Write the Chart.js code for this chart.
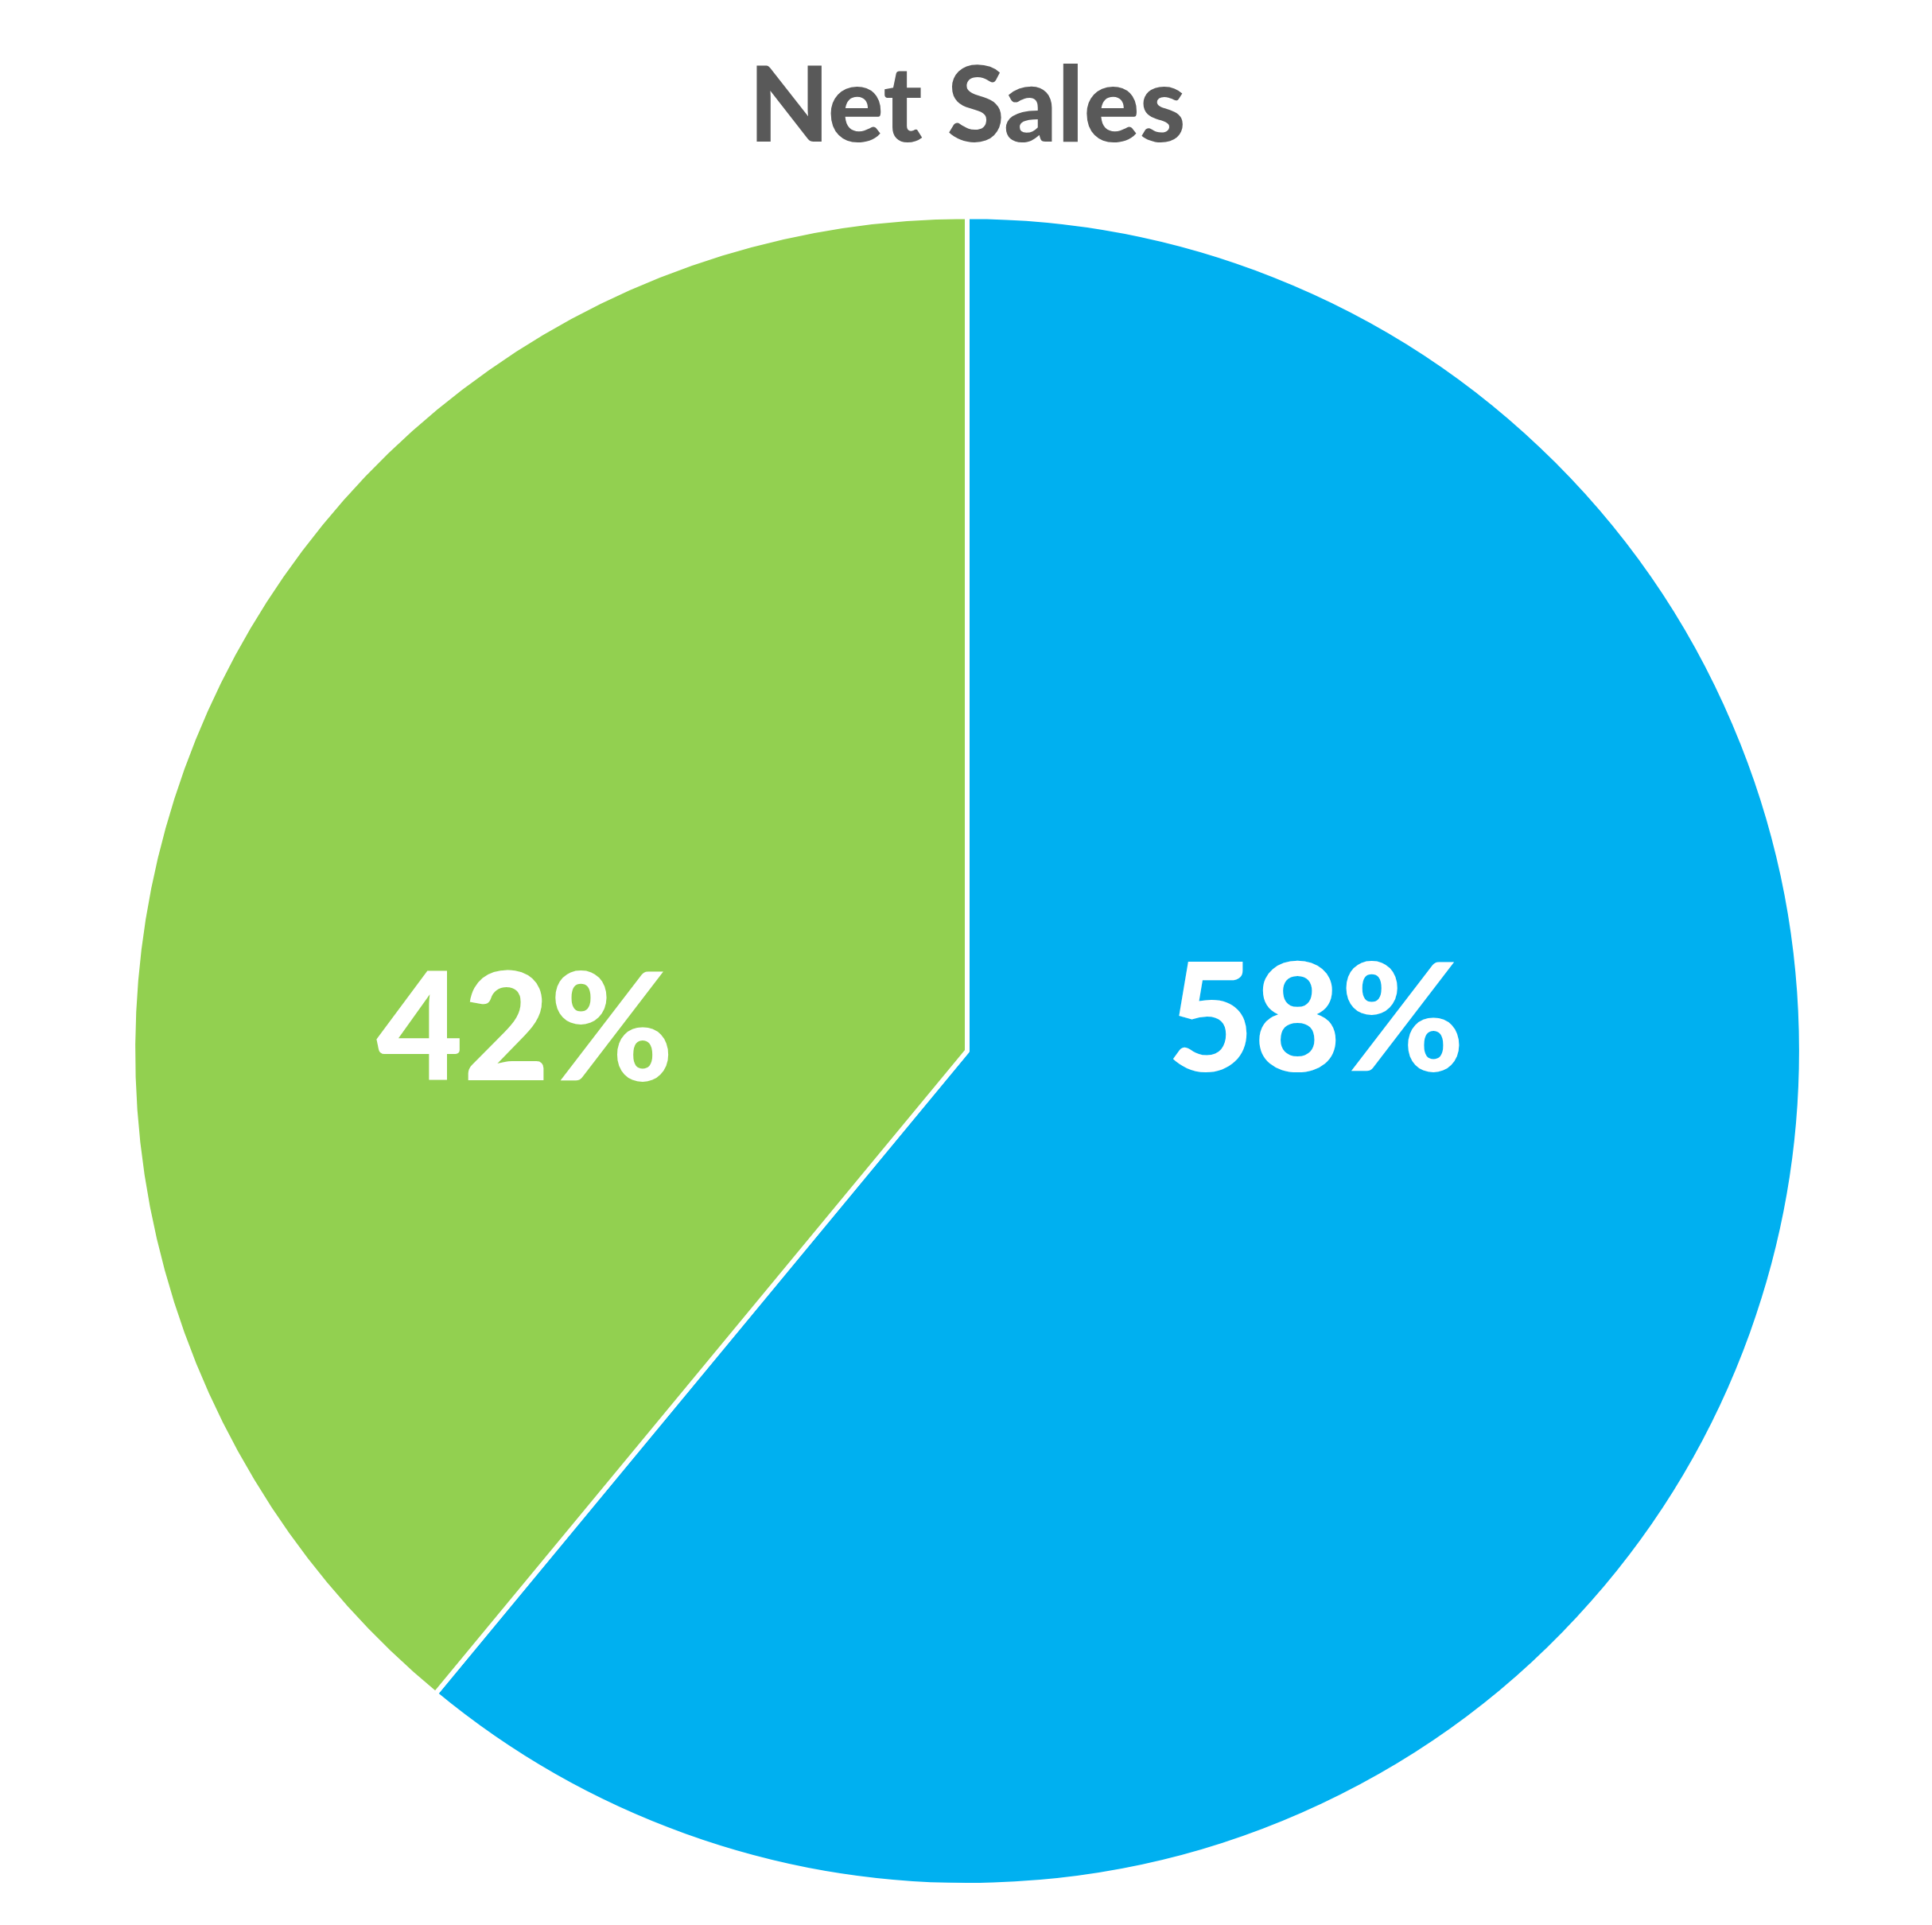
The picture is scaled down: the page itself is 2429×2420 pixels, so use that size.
<!DOCTYPE html>
<html lang="en">
<head>
<meta charset="UTF-8">
<title>Net Sales</title>
<script src="https://cdn.jsdelivr.net/npm/chart.js"></script>
    <style>
        * {
        margin: 0;
        padding: 0;
        box-sizing: border-box;
        }

        html, body {
        width: 2429px;
        height: 2420px;
        background: #ffffff;
        overflow: hidden;
        }

        canvas {
        display: block;
        }
    </style>
</head>
<body>

    <canvas id="chart" width="2429" height="2420"></canvas>

    <script>
        const categories = ['A', 'B'];
        const shares = [61, 39];
        const labelTexts = ['58%', '42%'];
        const sliceColors = ['#00B0F0', '#92D050'];

        // writes the percentage text inside each slice
        const pieLabels = {
        id: 'pieLabels',
        afterDatasetsDraw(chart, args, opts) {
            const meta = chart.getDatasetMeta(0);
            const ctx = chart.ctx;
            ctx.save();
            ctx.fillStyle = opts.color;
            ctx.font = opts.font;
            ctx.textAlign = 'center';
            ctx.textBaseline = 'alphabetic';
            meta.data.forEach((arc, i) => {
            const r = arc.outerRadius;
            const a = opts.anchors[i];
            ctx.fillText(labelTexts[i], arc.x + a.x * r, arc.y + a.y * r);
            });
            ctx.restore();
        }
        };

        const ctx = document.getElementById('chart').getContext('2d');
        new Chart(ctx, {
        type: 'pie',
        data: {
            labels: categories,
            datasets: [{
            data: shares,
            backgroundColor: sliceColors,
            borderColor: '#ffffff',
            borderWidth: 6
            }]
        },
        options: {
            responsive: false,
            animation: false,
            devicePixelRatio: 1,
            layout: {
            padding: { left: 3, bottom: 47 }
            },
            plugins: {
            legend: { display: false },
            tooltip: { enabled: false },
            title: {
                display: true,
                text: 'Net Sales',
                color: '#595959',
                font: { family: 'Lato', size: 131, weight: 900 },
                padding: { top: 57, bottom: 55 }
            },
            pieLabels: {
                color: '#ffffff',
                font: '900 188px Lato',
                anchors: [
                { x: 0.418, y: 0.024 },
                { x: -0.530, y: 0.035 }
                ]
            }
            }
        },
        plugins: [pieLabels]
        });
    </script>
</body>
</html>
